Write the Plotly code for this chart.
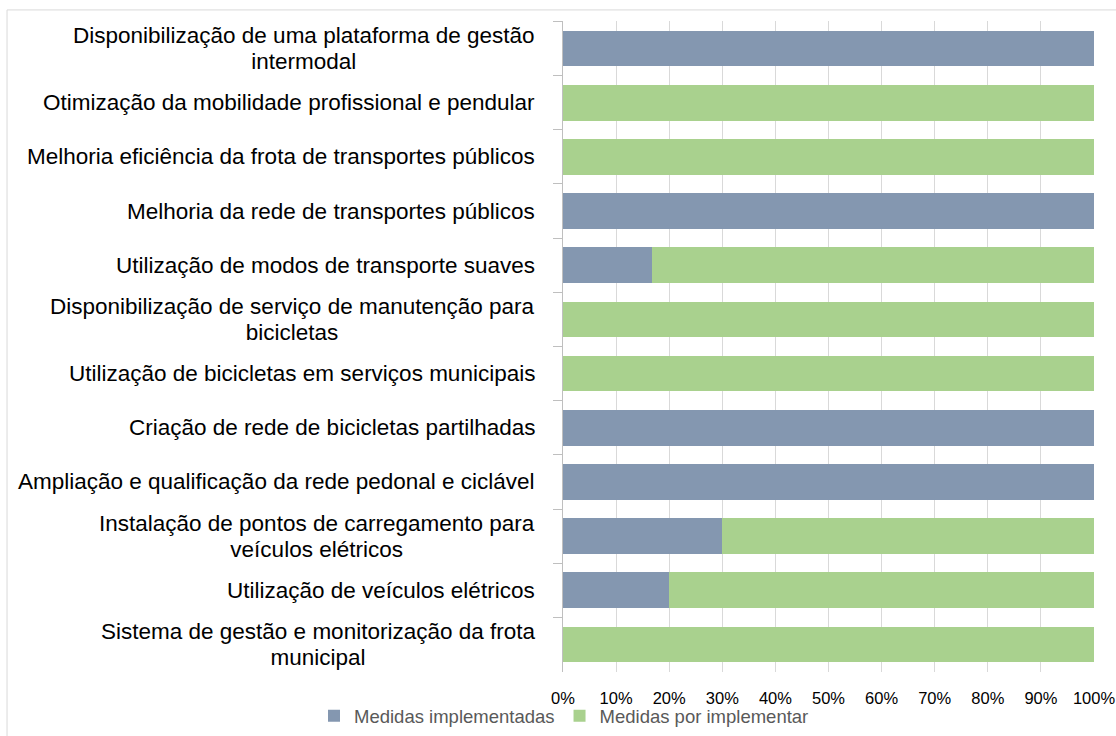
import plotly.graph_objects as go

categories = [
    "Disponibilização de uma plataforma de gestão<br>intermodal",
    "Otimização da mobilidade profissional e pendular",
    "Melhoria eficiência da frota de transportes públicos",
    "Melhoria da rede de transportes públicos",
    "Utilização de modos de transporte suaves",
    "Disponibilização de serviço de manutenção para<br>bicicletas",
    "Utilização de bicicletas em serviços municipais",
    "Criação de rede de bicicletas partilhadas",
    "Ampliação e qualificação da rede pedonal e ciclável",
    "Instalação de pontos de carregamento para<br>veículos elétricos",
    "Utilização de veículos elétricos",
    "Sistema de gestão e monitorização da frota<br>municipal",
]
implementadas = [100, 0, 0, 100, 16.7, 0, 0, 100, 100, 30, 20, 0]
por_implementar = [0, 100, 100, 0, 83.3, 100, 100, 0, 0, 70, 80, 100]
x_ticks = [0, 10, 20, 30, 40, 50, 60, 70, 80, 90, 100]
x_tick_labels = ["0%", "10%", "20%", "30%", "40%", "50%", "60%", "70%", "80%", "90%", "100%"]
series_names = ["Medidas implementadas", "Medidas por implementar"]

FONT = "Liberation Sans, Arial, sans-serif"

fig = go.Figure()
fig.add_trace(go.Bar(y=categories, x=implementadas, orientation="h", hoverinfo="skip",
                     name=series_names[0], marker=dict(color="#8497B0", line=dict(width=0))))
fig.add_trace(go.Bar(y=categories, x=por_implementar, orientation="h", hoverinfo="skip",
                     name=series_names[1], marker=dict(color="#A9D18E", line=dict(width=0))))

for c in categories:
    label = "<br>".join('<span style="font-size:22.5px">%s</span>' % ln for ln in c.split("<br>"))
    fig.add_annotation(x=0, xref="paper", y=c, yref="y", text=label, showarrow=False,
                       xanchor="right", yanchor="middle", align="center", xshift=-26,
                       font=dict(family=FONT, size=20, color="#000000"))

fig.update_layout(
    barmode="stack",
    bargap=0.34,
    hovermode=False,
    dragmode=False,
    width=1116, height=736,
    margin=dict(l=563, r=22, t=21, b=64, autoexpand=False),
    paper_bgcolor="white", plot_bgcolor="white",
    font=dict(family=FONT, size=16.5, color="#000000"),
    xaxis=dict(range=[0, 100], tickvals=x_ticks, ticktext=x_tick_labels,
               showgrid=True, gridcolor="#D9D9D9", gridwidth=1, fixedrange=True,
               zeroline=False, showline=False, automargin=False,
               ticks="outside", ticklen=11, tickcolor="rgba(0,0,0,0)",
               tickfont=dict(family=FONT, size=16.5, color="#000000")),
    yaxis=dict(autorange="reversed", showticklabels=False, tickson="boundaries",
               ticks="outside", ticklen=9, tickcolor="#BFBFBF", automargin=False,
               showline=True, linecolor="#BFBFBF", linewidth=1, fixedrange=True,
               showgrid=False, zeroline=False),
    legend=dict(orientation="h", xref="container", yref="container",
                x=314 / 1116, y=0.027, xanchor="left", yanchor="middle",
                bgcolor="rgba(0,0,0,0)",
                font=dict(family=FONT, size=18.5, color="#595959"),
                itemclick=False, itemdoubleclick=False, traceorder="normal"),
    shapes=[
        dict(type="line", xref="paper", yref="paper", x0=-1.047, x1=1.1, y0=1.017, y1=1.017,
             line=dict(color="#D9D9D9", width=1)),
        dict(type="line", xref="paper", yref="paper", x0=-1.047, x1=-1.047, y0=1.017, y1=-0.2,
             line=dict(color="#D9D9D9", width=1)),
    ],
)

fig.write_html("out.html", config={"displayModeBar": False, "staticPlot": True},
               post_script="document.body.style.margin='0';document.body.style.overflow='hidden';")
